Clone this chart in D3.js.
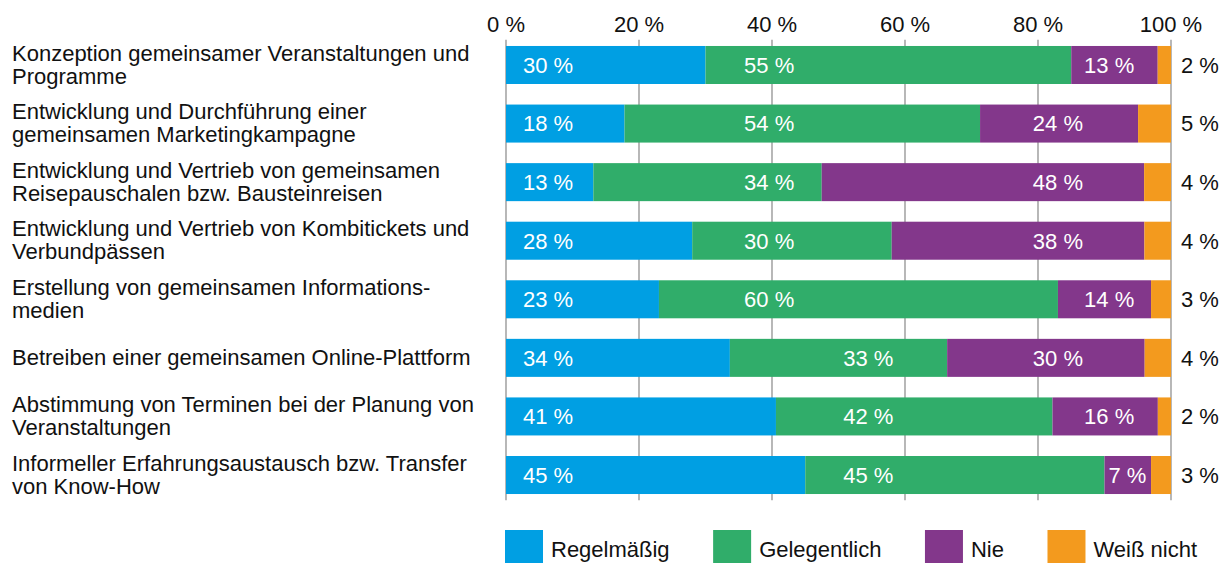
<!DOCTYPE html>
<meta charset="utf-8">
<style>
    body { margin: 0; background: #fff; }
    text { font-family: "Liberation Sans", Arial, sans-serif; }
    .grid line { stroke: #a6a6a6; stroke-width: 1.6px; }
</style>
<body>
<script src="https://d3js.org/d3.v7.min.js"></script>
<script>
    // categories (rows) and answer series
    var categories = [
        ["Konzeption gemeinsamer Veranstaltungen und", "Programme"],
        ["Entwicklung und Durchführung einer", "gemeinsamen Marketingkampagne"],
        ["Entwicklung und Vertrieb von gemeinsamen", "Reisepauschalen bzw. Bausteinreisen"],
        ["Entwicklung und Vertrieb von Kombitickets und", "Verbundpässen"],
        ["Erstellung von gemeinsamen Informations-", "medien"],
        ["Betreiben einer gemeinsamen Online-Plattform"],
        ["Abstimmung von Terminen bei der Planung von", "Veranstaltungen"],
        ["Informeller Erfahrungsaustausch bzw. Transfer", "von Know-How"]
    ];
    var seriesNames = ["Regelmäßig", "Gelegentlich", "Nie", "Weiß nicht"];
    var regelmaessig = [30, 18, 13, 28, 23, 34, 41, 45];
    var gelegentlich = [55, 54, 34, 30, 60, 33, 42, 45];
    var nie          = [13, 24, 48, 38, 14, 30, 16, 7];
    var weissNicht   = [2, 5, 4, 4, 3, 4, 2, 3];
    var xTicks = [0, 20, 40, 60, 80, 100];

    var colors = ["#009fe3", "#30ad6a", "#83378b", "#f39a1e"];

    var W = 1220, H = 563;
    var svg = d3.select("body").append("svg")
        .attr("width", W).attr("height", H);

    // build table for the stack
    var rows = categories.map(function (c, i) {
        return { i: i, s0: regelmaessig[i], s1: gelegentlich[i], s2: nie[i], s3: weissNicht[i] };
    });
    var keys = ["s0", "s1", "s2", "s3"];
    var stack = d3.stack().keys(keys).offset(d3.stackOffsetExpand);
    var layers = stack(rows);

    var x = d3.scaleLinear().domain([0, 1]).range([506, 1171]);
    var y = d3.scaleBand().domain(d3.range(categories.length))
        .range([35.7, 504.3]).paddingInner(0.351).paddingOuter(0.1755);

    // vertical grid lines
    svg.append("g").attr("class", "grid")
        .selectAll("line").data(xTicks).enter().append("line")
        .attr("x1", function (d) { return x(d / 100); })
        .attr("x2", function (d) { return x(d / 100); })
        .attr("y1", y.range()[0] + 4)
        .attr("y2", y.range()[1] - 4);

    // top axis labels
    svg.append("g").selectAll("text").data(xTicks).enter().append("text")
        .attr("x", function (d) { return x(d / 100); })
        .attr("y", 32)
        .attr("text-anchor", "middle")
        .attr("font-size", 22)
        .attr("fill", "#111")
        .text(function (d) { return d + " %"; });

    // bars
    var layer = svg.selectAll(".layer").data(layers).enter().append("g")
        .attr("fill", function (d, i) { return colors[i]; });
    layer.selectAll("rect").data(function (d) { return d; }).enter().append("rect")
        .attr("x", function (d) { return x(d[0]); })
        .attr("width", function (d) { return x(d[1]) - x(d[0]); })
        .attr("y", function (d, i) { return y(i); })
        .attr("height", y.bandwidth());

    // value labels inside bars
    var vals = [regelmaessig, gelegentlich, nie];
    var greenStops = [0.358, 0.507];
    var purpleStops = [0.83, 0.907];
    var lbl = svg.append("g").attr("fill", "#fff").attr("font-size", 22);

    layers.slice(0, 3).forEach(function (L, k) {
        L.forEach(function (d, i) {
            var t = lbl.append("text")
                .attr("y", y(i) + y.bandwidth() / 2)
                .attr("dy", "0.36em")
                .text(vals[k][i] + " %");
            var w = t.node().getComputedTextLength();
            var x0 = x(d[0]), x1 = x(d[1]), px;
            if (k === 0) {
                px = x0 + 17;
            } else if (k === 1) {
                px = x(greenStops[greenStops.length - 1]);
                for (var s = 0; s < greenStops.length; s++) {
                    if (x(greenStops[s]) >= x0 + 38) { px = x(greenStops[s]); break; }
                }
            } else {
                var mid = (x0 + x1) / 2, best = x(purpleStops[0]);
                purpleStops.forEach(function (p) {
                    if (Math.abs(x(p) - mid) < Math.abs(best - mid)) best = x(p);
                });
                best = Math.max(best, x0 + w / 2 + 4);
                best = Math.min(best, x1 - w / 2 - 4);
                px = best - w / 2;
            }
            t.attr("x", px);
        });
    });

    // "weiß nicht" labels right of bars
    svg.append("g").selectAll("text").data(weissNicht).enter().append("text")
        .attr("x", x(1) + 10)
        .attr("y", function (d, i) { return y(i) + y.bandwidth() / 2; })
        .attr("dy", "0.36em")
        .attr("font-size", 22)
        .attr("fill", "#111")
        .text(function (d) { return d + " %"; });

    // category labels
    var lh = 23;
    var cat = svg.append("g").attr("font-size", 22).attr("fill", "#111");
    categories.forEach(function (lines, i) {
        var cy = y(i) + y.bandwidth() / 2;
        var top = cy - (lines.length - 1) * lh / 2;
        var t = cat.append("text").attr("x", 12);
        lines.forEach(function (ln, j) {
            t.append("tspan").attr("x", 12)
                .attr("y", top + j * lh).attr("dy", "0.33em").text(ln);
        });
    });

    // legend, spread from bar start to the right edge
    var legend = svg.append("g");
    var sq = 38, gap = 8, left = 505, right = 1197;
    var items = seriesNames.map(function (n, i) {
        var g = legend.append("g");
        g.append("rect").attr("width", sq).attr("height", sq)
            .attr("y", 530).attr("fill", colors[i]);
        var t = g.append("text").attr("x", sq + gap).attr("y", 549)
            .attr("dy", "0.35em").attr("font-size", 22).attr("fill", "#111").text(n);
        return { g: g, w: sq + gap + t.node().getComputedTextLength() };
    });
    var total = d3.sum(items, function (d) { return d.w; });
    var space = (right - left - total) / (items.length - 1);
    var cx = left;
    items.forEach(function (it) {
        it.g.attr("transform", "translate(" + cx + ",0)");
        cx += it.w + space;
    });
</script>
</body>
